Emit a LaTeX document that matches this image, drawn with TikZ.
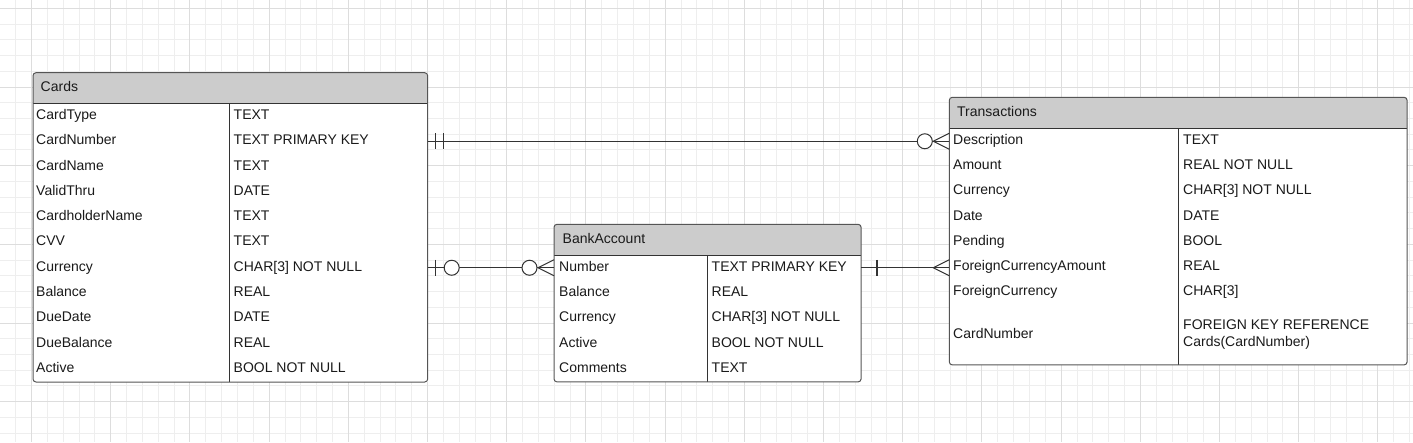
\documentclass[tikz,border=0pt]{standalone}
\usepackage{fontspec}
\setmainfont{Liberation Sans}
\definecolor{gridminor}{HTML}{EEEEEE}
\definecolor{gridmajor}{HTML}{DDDDDD}
\definecolor{boxline}{HTML}{555555}
\definecolor{divline}{HTML}{333333}
\definecolor{connline}{HTML}{333333}
\definecolor{hdrfill}{HTML}{CCCCCC}
\definecolor{txt}{HTML}{1A1A1A}
\tikzset{
  minorline/.style={draw=gridminor, line width=0.8pt},
  majorline/.style={draw=gridmajor, line width=0.8pt},
  tbl/.style={fill=white, inner sep=0pt, anchor=north west},
  frame/.style={draw=boxline, line width=1pt, rounded corners=3pt},
  sepline/.style={draw=divline, line width=1pt},
  cell/.style={anchor=west, inner sep=0pt, text height=10pt, text depth=3pt,
    font=\fontsize{14}{17}\selectfont, text=txt},
  conn/.style={draw=connline, line width=1pt},
  barmark/.style={draw=connline, line width=1.3pt},
  ring/.style={draw=connline, line width=1pt, fill=white},
}
\newcommand{\erframe}[3]{%
  \begin{scope}
    \clip[rounded corners=3pt] (#1.north west) rectangle (#1.south east);
    \fill[hdrfill] (#1.north west) rectangle (#1.east |- 0,#2);
  \end{scope}
  \draw[sepline] (#1.west |- 0,#2) -- (#1.east |- 0,#2);
  \draw[sepline] (#1.south -| #3,0) -- (#3,#2);
  \draw[frame] (#1.north west) rectangle (#1.south east);
}
\begin{document}
\begin{tikzpicture}[x=1pt, y=-1pt]
\useasboundingbox (0,0) rectangle (1413,442);
\fill[white] (0,0) rectangle (1413,442);
% grid
\foreach \i in {0,...,89} {\pgfmathsetmacro\xx{-0.2+15.84*\i}
  \draw[minorline] (\xx,0) -- (\xx,442);}
\foreach \j in {0,...,27} {\pgfmathsetmacro\yy{8.3+15.73*\j}
  \draw[minorline] (0,\yy) -- (1413,\yy);}
\foreach \i in {2,7,...,87} {\pgfmathsetmacro\xx{-0.2+15.84*\i}
  \draw[majorline] (\xx,0) -- (\xx,442);}
\foreach \j in {0,5,...,25} {\pgfmathsetmacro\yy{8.3+15.73*\j}
  \draw[majorline] (0,\yy) -- (1413,\yy);}

% ---------- Cards ----------
\node[tbl, minimum width=394.3pt, minimum height=308.9pt] (cards) at (33,72.7) {};
\erframe{cards}{103.3}{229.3}
\node[cell] (cards-h) at (40.5,88) {Cards};
\foreach \k/\t [count=\i] in {CardType/TEXT, CardNumber/TEXT PRIMARY KEY, CardName/TEXT,
  ValidThru/DATE, CardholderName/TEXT, CVV/TEXT, Currency/CHAR[3] NOT NULL,
  Balance/REAL, DueDate/DATE, DueBalance/REAL, Active/BOOL NOT NULL} {
  \pgfmathsetmacro\yy{103.3+25.3*(\i-0.5)}
  \node[cell] (cards-\i-k) at (36,\yy) {\k};
  \node[cell] (cards-\i-t) at (233.5,\yy) {\t};
}

% ---------- BankAccount ----------
\node[tbl, minimum width=306.7pt, minimum height=157.2pt] (bank) at (554,224.3) {};
\erframe{bank}{255}{707}
\node[cell] (bank-h) at (562.5,239.6) {BankAccount};
\foreach \k/\t [count=\i] in {Number/TEXT PRIMARY KEY, Balance/REAL,
  Currency/CHAR[3] NOT NULL, Active/BOOL NOT NULL, Comments/TEXT} {
  \pgfmathsetmacro\yy{255+25.3*(\i-0.5)}
  \node[cell] (bank-\i-k) at (559,\yy) {\k};
  \node[cell] (bank-\i-t) at (711.5,\yy) {\t};
}

% ---------- Transactions ----------
\node[tbl, minimum width=457.4pt, minimum height=267.2pt] (trans) at (949.3,97.3) {};
\erframe{trans}{128}{1178.3}
\node[cell] (trans-h) at (957,112.6) {Transactions};
\foreach \k/\t [count=\i] in {Description/TEXT, Amount/REAL NOT NULL,
  Currency/CHAR[3] NOT NULL, Date/DATE, Pending/BOOL,
  ForeignCurrencyAmount/REAL, ForeignCurrency/CHAR[3]} {
  \pgfmathsetmacro\yy{128+25.3*(\i-0.5)}
  \node[cell] (trans-\i-k) at (953,\yy) {\k};
  \node[cell] (trans-\i-t) at (1183,\yy) {\t};
}
\node[cell] (trans-8-k) at (953,334.5) {CardNumber};
\node[anchor=west, inner sep=0pt, align=left, font=\fontsize{14}{17}\selectfont, text=txt]
  (trans-8-t) at (1183,334.6) {FOREIGN KEY REFERENCE\\Cards(CardNumber)};

% ---------- Connectors ----------
% Cards.CardNumber (one and only one) -- Transactions (zero or many)
\coordinate (e1a) at (cards.east |- cards-2-k);
\coordinate (e1b) at (trans.west |- cards-2-k);
\draw[conn] (e1a) -- (e1b);
\draw[barmark] ([xshift=8pt,yshift=8pt]e1a) -- ([xshift=8pt,yshift=-8pt]e1a);
\draw[barmark] ([xshift=16pt,yshift=8pt]e1a) -- ([xshift=16pt,yshift=-8pt]e1a);
\draw[conn] ([yshift=8pt]e1b) -- ([xshift=-16pt]e1b) -- ([yshift=-8pt]e1b);
\draw[ring] ([xshift=-24.5pt]e1b) circle[radius=7.5pt];

% Cards.Currency (zero or one) -- BankAccount.Number (zero or many)
\coordinate (e2a) at (cards.east |- cards-7-k);
\coordinate (e2b) at (bank.west |- cards-7-k);
\draw[conn] (e2a) -- (e2b);
\draw[barmark] ([xshift=8pt,yshift=8pt]e2a) -- ([xshift=8pt,yshift=-8pt]e2a);
\draw[ring] ([xshift=24pt]e2a) circle[radius=7.5pt];
\draw[conn] ([yshift=8pt]e2b) -- ([xshift=-16pt]e2b) -- ([yshift=-8pt]e2b);
\draw[ring] ([xshift=-24.5pt]e2b) circle[radius=7.5pt];

% BankAccount.Number (one) -- Transactions.ForeignCurrencyAmount (many)
\coordinate (e3a) at (bank.east |- cards-7-k);
\coordinate (e3b) at (trans.west |- cards-7-k);
\draw[conn] (e3a) -- (e3b);
\draw[barmark] ([xshift=16pt,yshift=8pt]e3a) -- ([xshift=16pt,yshift=-8pt]e3a);
\draw[conn] ([yshift=8pt]e3b) -- ([xshift=-16pt]e3b) -- ([yshift=-8pt]e3b);
\end{tikzpicture}
\end{document}
